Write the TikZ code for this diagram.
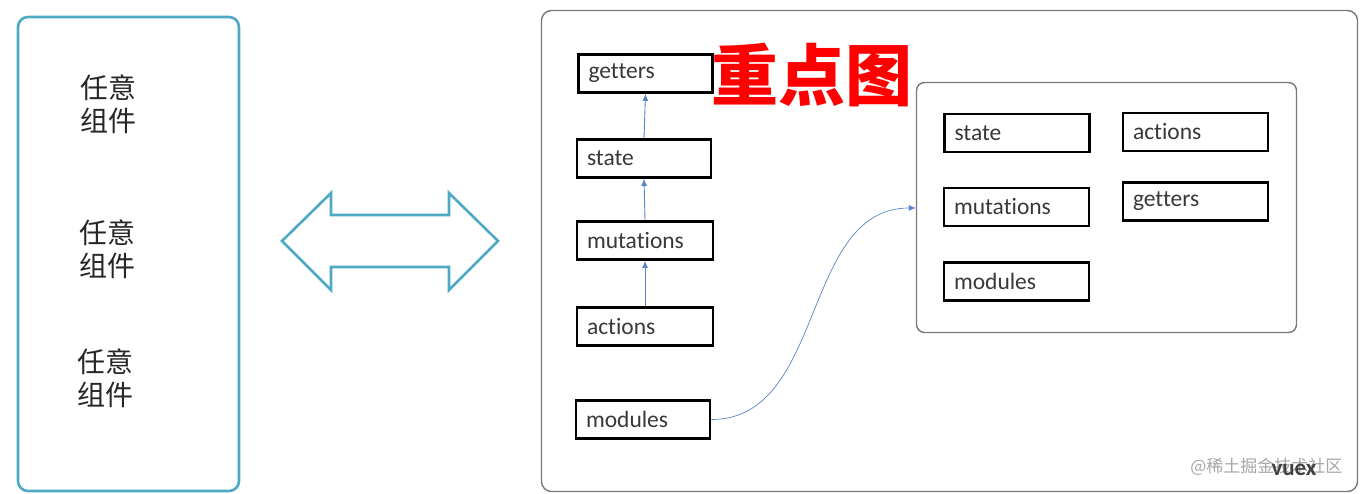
\documentclass[tikz,border=0pt]{standalone}
\usepackage{fontspec}
\usepackage{tikz}
\usetikzlibrary{arrows.meta}
\setmainfont{Carlito}[Ligatures=NoCommon]
\newfontfamily\cjk{Noto Sans CJK SC}
\definecolor{teal}{RGB}{78,170,196}
\definecolor{flow}{RGB}{88,132,200}
\definecolor{frame}{RGB}{120,120,120}
\tikzset{
  part/.style={draw, line width=2.6pt, rectangle, minimum height=38pt, text width=#1,
    align=left, inner xsep=10pt, inner ysep=0pt, text=black!78,
    font=\fontsize{23.5}{27}\selectfont},
  part/.default=114pt,
  comp/.style={align=center, font=\cjk\fontsize{28}{33}\selectfont, text=black!85},
  link/.style={-{Latex[length=7pt,width=6pt]}, flow, line width=0.9pt}
}
\begin{document}
\begin{tikzpicture}[x=1pt, y=-1pt]
\useasboundingbox (0,0) rectangle (1360,494);
% left: components
\node (comps) [draw=teal, line width=2.6pt, rounded corners=10pt, minimum width=221pt,
  minimum height=474pt] at (128.5,254) {};
\node (c1) [comp] at (108,104) {任意\\组件};
\node (c2) [comp] at (107,249) {任意\\组件};
\node (c3) [comp] at (105,378) {任意\\组件};
% double arrow
\draw [teal, line width=2.6pt, line join=miter] (282,241) -- (331,193) -- (331,215) -- (449,215)
  -- (449,193) -- (498,241) -- (449,290) -- (449,267) -- (331,267) -- (331,290) -- cycle;
% right: store
\node (store) [draw=frame, line width=1.4pt, rounded corners=10pt, minimum width=816pt,
  minimum height=481pt] at (949.5,251) {};
\node (title) [text=red, font=\cjk\bfseries\fontsize{67}{70}\selectfont] at (812,75) {重点图};
\node (gt) [part] at (645.5,73.5) {getters};
\node (st) [part] at (644,158.5) {state};
\node (mu) [part=116pt] at (645,240.5) {mutations};
\node (ac) [part=116pt] at (645,326.5) {actions};
\node (mo) [part] at (643,419.5) {modules};
\draw [link] (st.north) -- (gt.south);
\draw [link] (mu.north) -- (st.south);
\draw [link] (ac.north) -- (mu.south);
% module box
\node (modbox) [draw=frame, line width=1.4pt, rounded corners=8pt, minimum width=380pt,
  minimum height=250pt] at (1106.5,207.5) {};
\node (ist) [part=125pt] at (1017,133) {state};
\node (iac) [part=125pt] at (1195.5,132) {actions};
\node (imu) [part=125pt] at (1016.5,207) {mutations};
\node (igt) [part=125pt] at (1195.5,201.5) {getters};
\node (imo) [part=125pt] at (1016.5,281.5) {modules};
\coordinate (in) at (modbox.west |- 0,208);
\draw [link, line width=0.7pt] (mo.east) to [out=0, in=180] (in);
% labels
\node (mark) [anchor=east, text=black!35, font=\cjk\fontsize{17}{20}\selectfont] at (1346,467) {@稀土掘金技术社区};
\node (vuex) [text=black!75, font=\bfseries\fontsize{23}{26}\selectfont] at (1294,470) {vuex};
\end{tikzpicture}
\end{document}
